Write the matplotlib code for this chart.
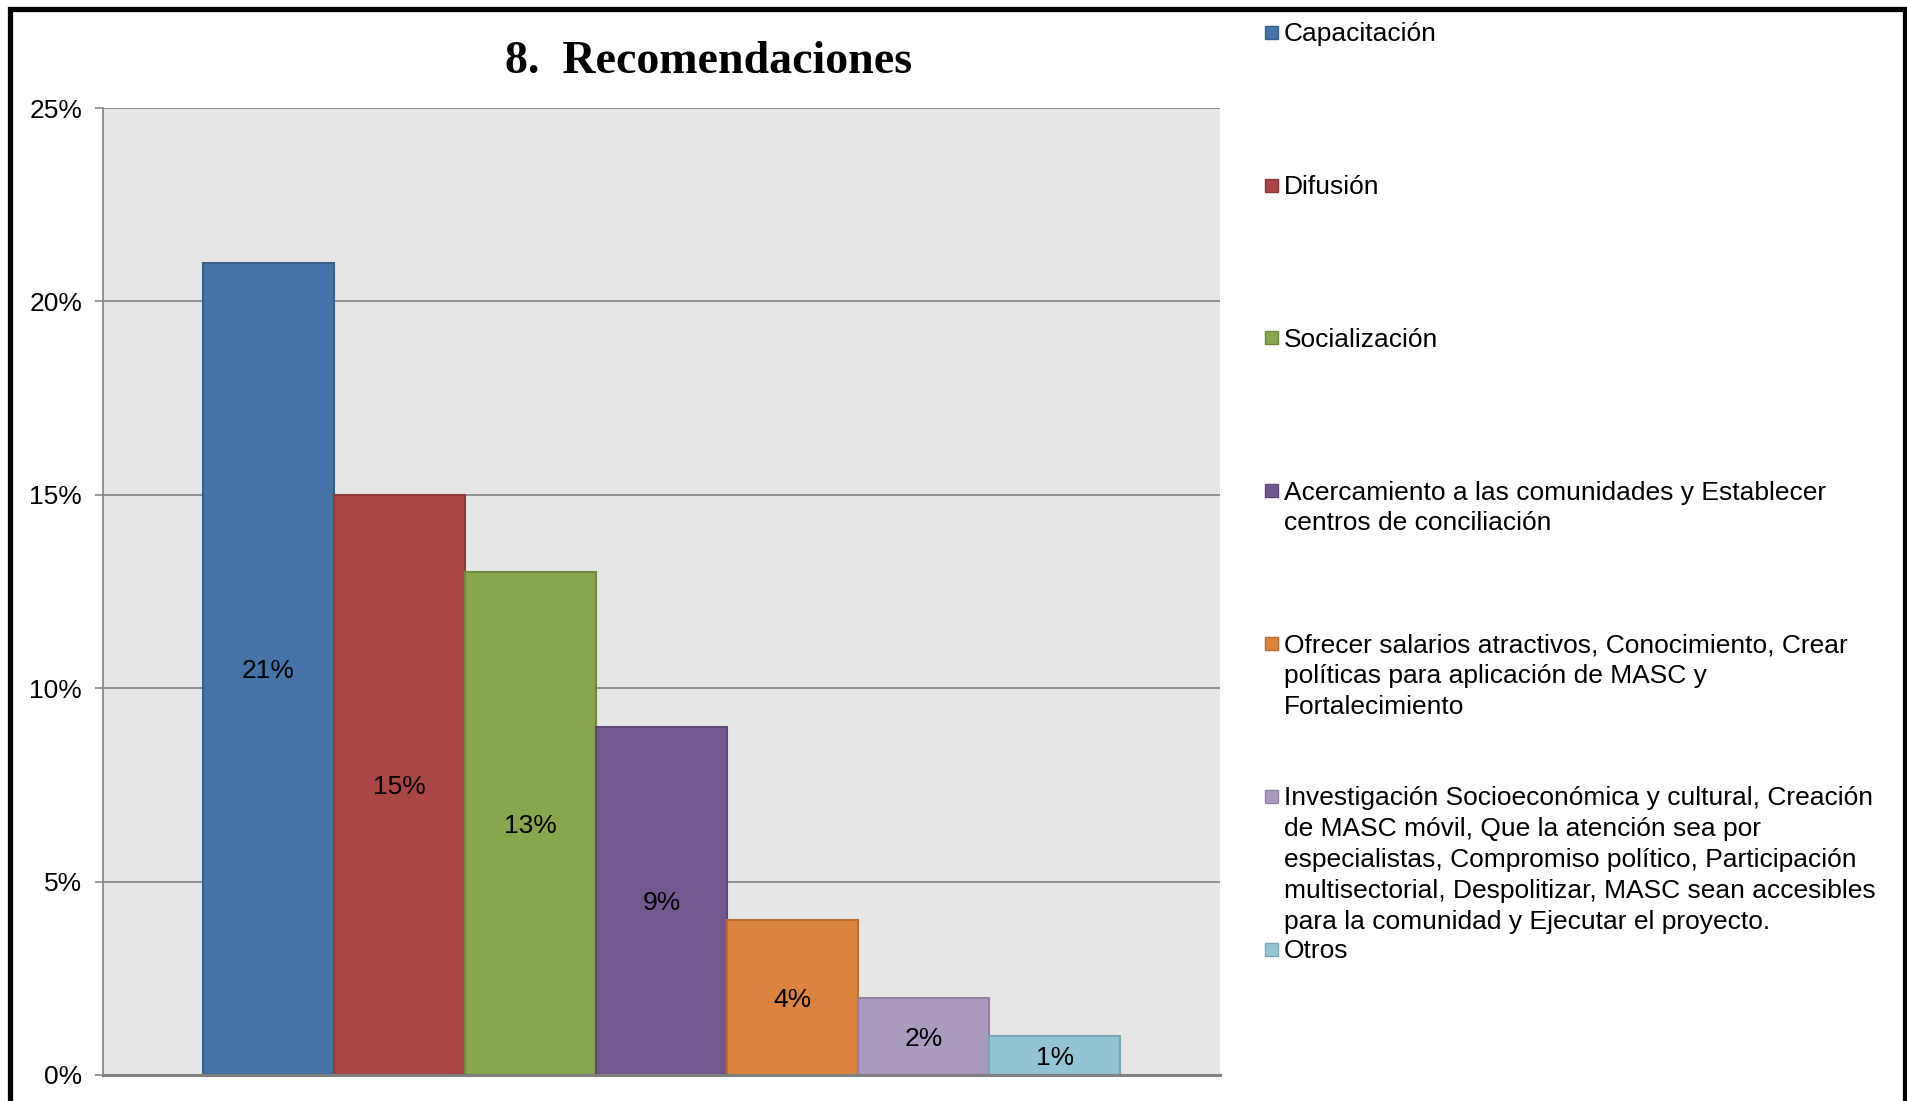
import matplotlib.pyplot as plt
from matplotlib.patches import Rectangle

""" ------------------- Data ------------------- """

categories = [
    "Capacitación",
    "Difusión",
    "Socialización",
    "Acercamiento a las comunidades y Establecer\ncentros de conciliación",
    "Ofrecer salarios atractivos, Conocimiento, Crear\npolíticas para aplicación de MASC y\nFortalecimiento",
    "Investigación Socioeconómica y cultural, Creación\nde MASC móvil, Que la atención sea por\nespecialistas, Compromiso político, Participación\nmultisectorial, Despolitizar, MASC sean accesibles\npara la comunidad y Ejecutar el proyecto.",
    "Otros",
]
values = [21, 15, 13, 9, 4, 2, 1]
fills = ['#4673A7', '#AA4644', '#89A54E', '#71588F', '#DB843D', '#A99BBE', '#93C4D4']
edges = ['#3A5F8C', '#8E3A38', '#71893F', '#5D4877', '#B86D31', '#8E82A0', '#7AA6B4']
yticks = [0, 5, 10, 15, 20, 25]
ytick_labels = ['0%', '5%', '10%', '15%', '20%', '25%']

W, H = 1907, 1101
plt.rcParams['font.family'] = ['Liberation Sans', 'DejaVu Sans']

fig = plt.figure(figsize=(W / 100, H / 100), dpi=100)
fig.patch.set_facecolor('white')

# plot area in pixels: x 103..1220, y 108..1075
ax = fig.add_axes([103 / W, (H - 1075) / H, (1220 - 103) / W, (1075 - 108) / H])
ax.set_facecolor('#E6E6E6')

x = range(len(values))
ax.bar(x, values, width=1.0, color=fills, edgecolor=edges, linewidth=1.5, zorder=3)

# data labels in the middle of each bar (baseline shifted by half the cap height)
for i, v in enumerate(values):
  ax.annotate(f"{v}%", xy=(i, v / 2), xytext=(0, -6.8), textcoords='offset points',
              ha='center', va='baseline', fontsize=19, color='black', zorder=4)

ax.set_xlim(-1.26, 6.5 + 0.76)
ax.set_ylim(0, 25)
ax.set_yticks(yticks)
ax.set_yticklabels(ytick_labels, fontsize=19)
ax.set_xticks([])
ax.yaxis.grid(True, color='#8A8A8A', linewidth=1.3, zorder=1)
ax.set_axisbelow(True)
ax.tick_params(axis='y', length=6, width=1.2, color='#8A8A8A', pad=9)

for s in ['top', 'right']:
  ax.spines[s].set_visible(False)
ax.spines['left'].set_color('#8A8A8A')
ax.spines['left'].set_linewidth(1.3)
ax.spines['bottom'].set_color('#808080')
ax.spines['bottom'].set_linewidth(2.2)
ax.spines['bottom'].set_zorder(5)

# title
fig.text(709 / W, 1 - 73 / H, "8.  Recomendaciones", ha='center', va='baseline',
         fontsize=33, fontweight='bold', family='Liberation Serif')

# legend, drawn by hand: one slot of ~153 px per entry
line_h = 30.8
for i, (lab, col, ec) in enumerate(zip(categories, fills, edges)):
  y0 = 31.8 + 152.8 * i
  fig.add_artist(Rectangle((1265 / W, 1 - (y0 + 7) / H), 13 / W, 13 / H,
                           transform=fig.transFigure, facecolor=col, edgecolor=ec, linewidth=1))
  for k, line in enumerate(lab.split('\n')):
    fig.text(1284 / W, 1 - (y0 + 9.5 + k * line_h) / H, line, ha='left', va='baseline', fontsize=19)

# black frame round the picture
fig.add_artist(Rectangle((10 / W, -0.05), (1905 - 10) / W, 1.05 - 8.5 / H, transform=fig.transFigure,
                         fill=False, edgecolor='black', linewidth=3.8))

fig.savefig('out.png', dpi=100)
